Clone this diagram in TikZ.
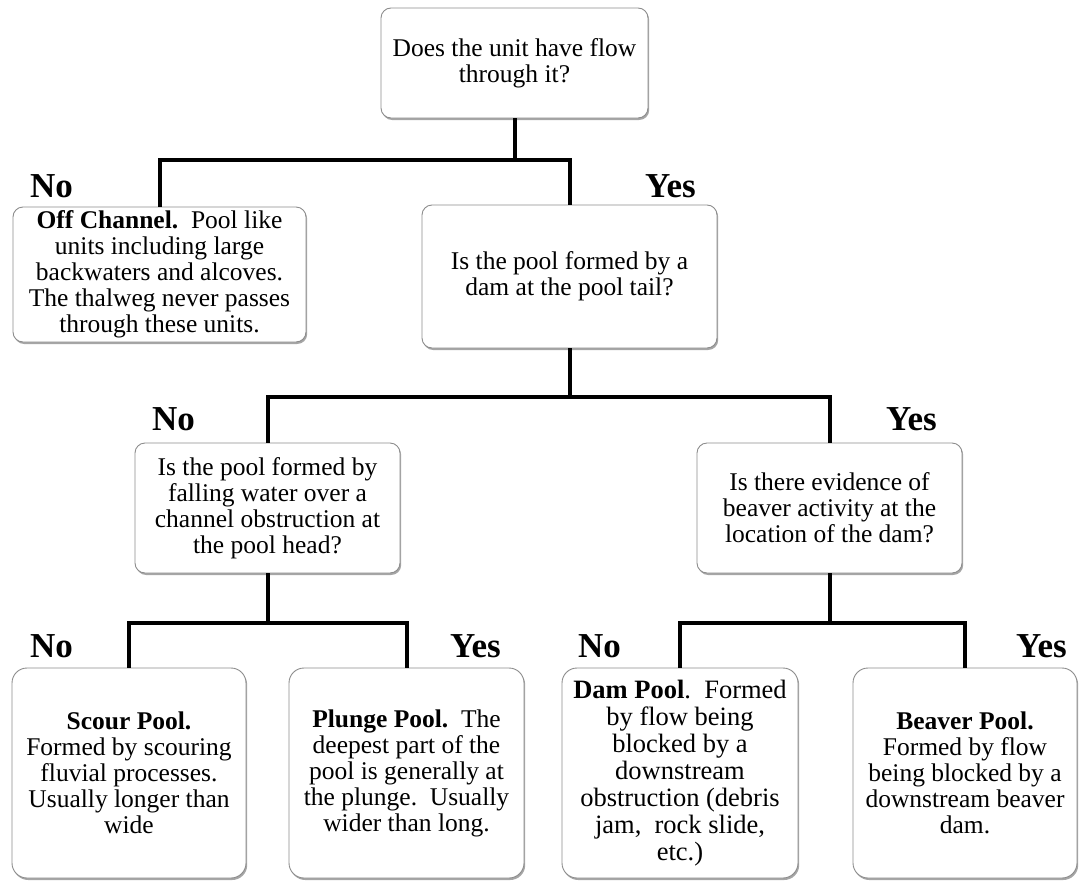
\documentclass[tikz,border=0pt]{standalone}
\usepackage{fontspec}
\setmainfont{Liberation Serif}
\usetikzlibrary{shadows}
\newcommand{\boxfont}{\fontsize{25.5}{26}\selectfont}
\newcommand{\damfont}{\fontsize{26.5}{27}\selectfont}
\newcommand{\ansfont}{\fontsize{35}{36}\selectfont\bfseries}
\tikzset{
  box/.style={draw=black!45, line width=0.9pt, rounded corners=10pt, fill=white,
    align=center, inner sep=0pt, font=\boxfont,
    drop shadow={shadow xshift=1.2pt, shadow yshift=-2pt, opacity=0.35, fill=black}},
  bigbox/.style={box, rounded corners=15pt},
  conn/.style={line width=4pt, black},
  ans/.style={font=\ansfont, anchor=base west, inner sep=0pt},
}
\begin{document}
\begin{tikzpicture}[x=1pt, y=-1pt]
\useasboundingbox (0,0) rectangle (1079,881);
% question / result boxes
\node[box, minimum width=267pt, minimum height=110pt] (q1) at (514.5,63) {Does the unit have flow\\through it?};
\node[box, minimum width=293pt, minimum height=135pt] (off) at (159.5,274.5) {\textbf{Off Channel.}\ \ Pool like\\units including large\\backwaters and alcoves.\\The thalweg never passes\\through these units.};
\node[box, minimum width=295pt, minimum height=143pt] (q2) at (569.5,276.5) {Is the pool formed by a\\dam at the pool tail?};
\node[box, minimum width=265pt, minimum height=130pt] (q3) at (267.5,508) {Is the pool formed by\\falling water over a\\channel obstruction at\\the pool head?};
\node[box, minimum width=265pt, minimum height=130pt] (q4) at (829.5,508) {Is there evidence of\\beaver activity at the\\location of the dam?};
\node[bigbox, minimum width=234pt, minimum height=210pt] (scour) at (129,773) {\textbf{Scour Pool.}\\Formed by scouring\\fluvial processes.\\Usually longer than\\wide};
\node[bigbox, minimum width=235pt, minimum height=210pt] (plunge) at (406.5,773) {\textbf{Plunge Pool.}\ \ The\\deepest part of the\\pool is generally at\\the plunge.\ \ Usually\\wider than long.};
\node[bigbox, minimum width=236pt, minimum height=210pt, font=\damfont] (dam) at (680,773) {\textbf{Dam Pool}.\ \ Formed\\by flow being\\blocked by a\\downstream\\obstruction (debris\\jam,\ \ rock slide,\\etc.)};
\node[bigbox, minimum width=224pt, minimum height=210pt] (beaver) at (965,773) {\textbf{Beaver Pool.}\\Formed by flow\\being blocked by a\\downstream beaver\\dam.};
% junction levels
\coordinate (j1) at (515,160);
\coordinate (j2) at (569,397);
\coordinate (j3a) at (267,623);
\coordinate (j3b) at (829,623);
% connectors
\draw[conn] (q1.south) -- (q1.south |- j1);
\draw[conn] (off.north) |- (q2.north |- j1) -- (q2.north);
\draw[conn] (q2.south) -- (q2.south |- j2);
\draw[conn] (q3.north) |- (q4.north |- j2) -- (q4.north);
\draw[conn] (q3.south) -- (q3.south |- j3a);
\draw[conn] (scour.north) |- (plunge.north |- j3a) -- (plunge.north);
\draw[conn] (q4.south) -- (q4.south |- j3b);
\draw[conn] (dam.north) |- (beaver.north |- j3b) -- (beaver.north);
% answer labels
\node[ans] (n1) at (30,197) {No};
\node[ans] (y1) at (645,197) {Yes};
\node[ans] (n2) at (152,430) {No};
\node[ans] (y2) at (886,430) {Yes};
\node[ans] (n3) at (30,657) {No};
\node[ans] (y3) at (450,657) {Yes};
\node[ans] (n4) at (578,657) {No};
\node[ans] (y4) at (1016,657) {Yes};
\end{tikzpicture}
\end{document}
